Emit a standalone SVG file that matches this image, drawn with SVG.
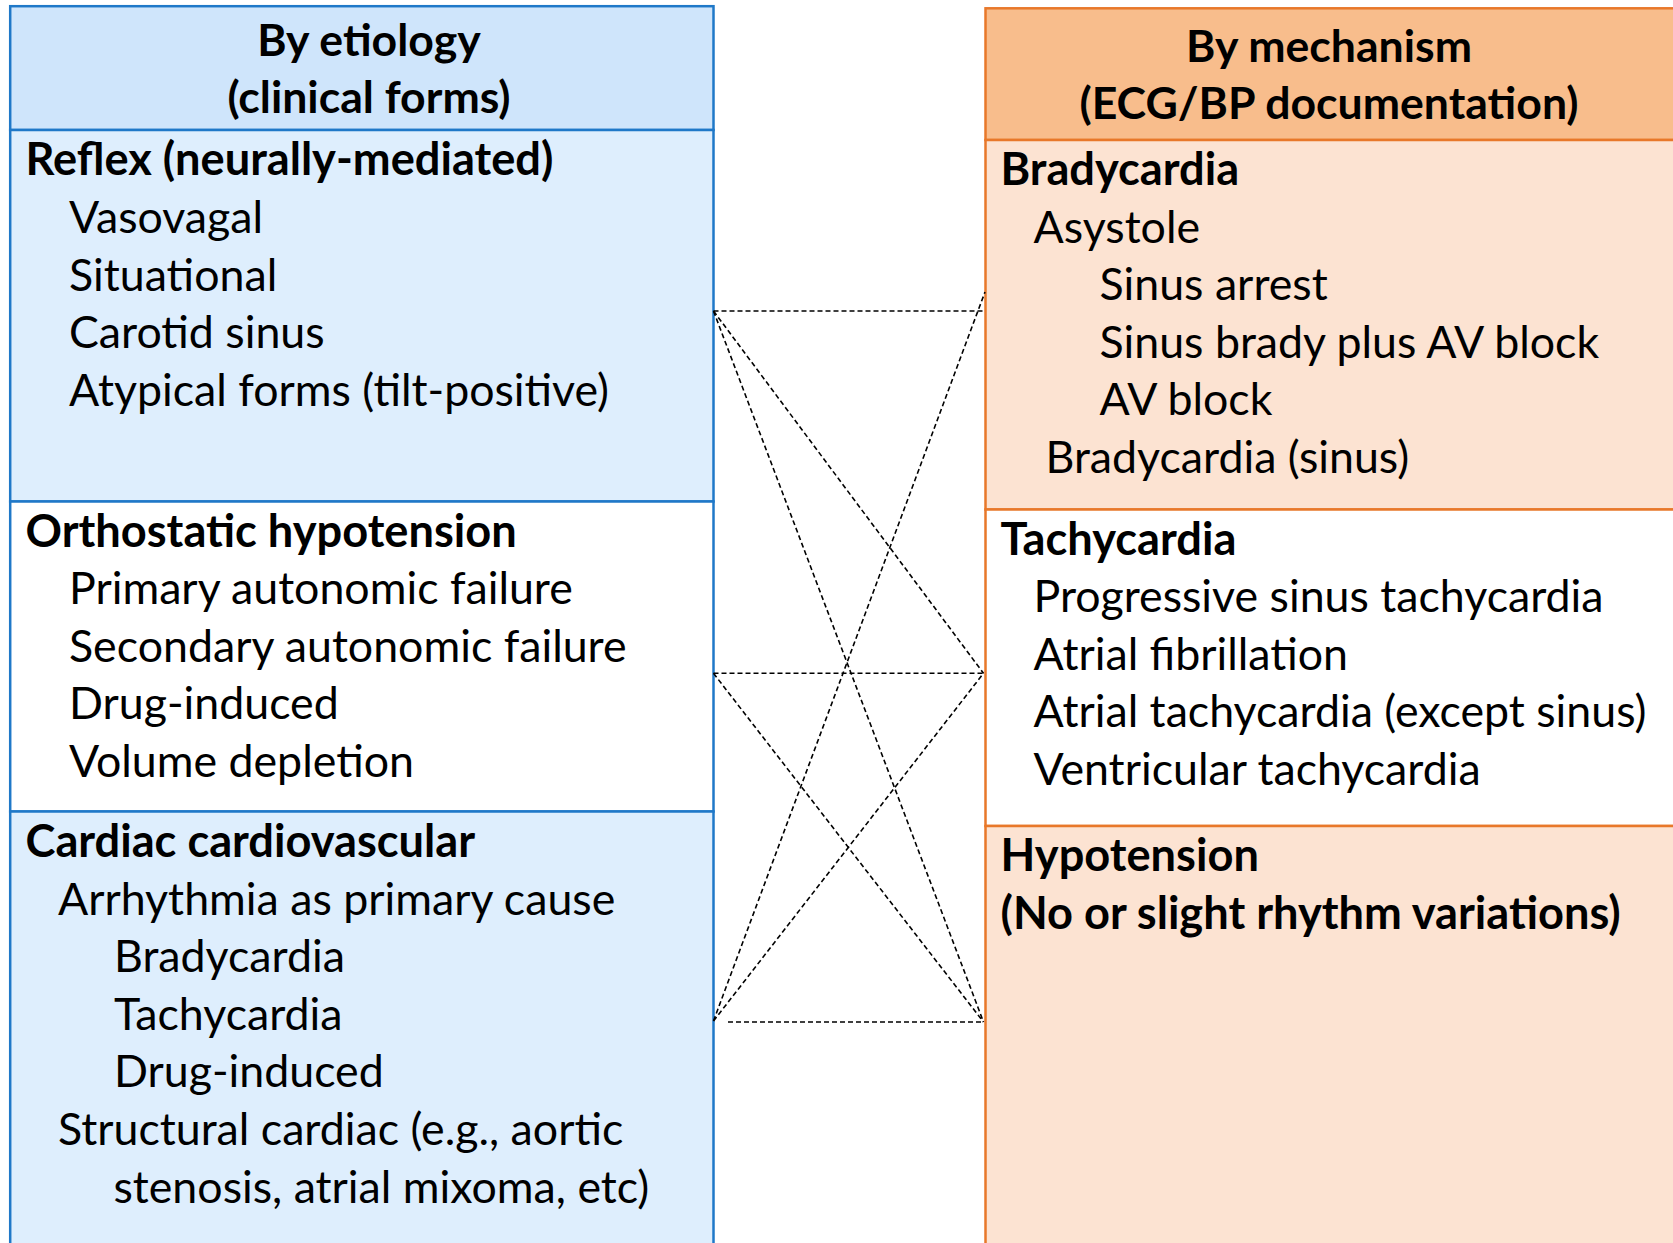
<svg xmlns="http://www.w3.org/2000/svg" width="1673" height="1243" viewBox="0 0 1673 1243">
<style>
text{font-family:Lato,"Open Sans","Liberation Sans",sans-serif;fill:#000}
.h{font-size:44.6px;font-weight:bold;text-anchor:middle}
.b{font-size:45.2px;font-weight:bold}
.r{font-size:44.7px}
.lb{stroke:#1F78C8;stroke-width:2.5}
.ro{stroke:#E8782A;stroke-width:2.5}
.conn line{stroke:#000;stroke-width:1.6;stroke-dasharray:5 3;fill:none}
</style>
<rect width="1673" height="1243" fill="#fff"/>
<g id="left-header">
<rect class="lb" x="10.2" y="6.2" width="703.3" height="123.8" fill="#CFE5FB"/>
<text class="h" x="369" y="55.5">By etiology</text>
<text class="h" x="369" y="113">(clinical forms)</text>
</g>
<g id="reflex">
<rect class="lb" x="10.2" y="130" width="703.3" height="371.5" fill="#DEEEFD"/>
<text class="b" x="25.5" y="175">Reflex (neurally-mediated)</text>
<text class="r" x="69" y="233">Vasovagal</text>
<text class="r" x="69" y="290.6">Situational</text>
<text class="r" x="69" y="348.2">Carotid sinus</text>
<text class="r" x="69" y="405.8">Atypical forms (tilt-positive)</text>
</g>
<g id="orthostatic">
<rect class="lb" x="10.2" y="501.5" width="703.3" height="310" fill="#FFFFFF"/>
<text class="b" x="25.5" y="546.5">Orthostatic hypotension</text>
<text class="r" x="69" y="604.1">Primary autonomic failure</text>
<text class="r" x="69" y="661.7">Secondary autonomic failure</text>
<text class="r" x="69" y="719.3">Drug-induced</text>
<text class="r" x="69" y="776.9">Volume depletion</text>
</g>
<g id="cardiac">
<rect class="lb" x="10.2" y="811.5" width="703.3" height="460" fill="#DEEEFD"/>
<text class="b" x="25.5" y="857">Cardiac cardiovascular</text>
<text class="r" x="58" y="914.6">Arrhythmia as primary cause</text>
<text class="r" x="114" y="972.2">Bradycardia</text>
<text class="r" x="114" y="1029.8">Tachycardia</text>
<text class="r" x="114" y="1087.4">Drug-induced</text>
<text class="r" x="58" y="1145">Structural cardiac (e.g., aortic</text>
<text class="r" x="113.5" y="1202.6">stenosis, atrial mixoma, etc)</text>
</g>
<g id="right-header">
<rect class="ro" x="985.5" y="8.3" width="720" height="131.7" fill="#F8BD8C"/>
<text class="h" x="1329" y="62">By mechanism</text>
<text class="h" x="1329" y="119">(ECG/BP documentation)</text>
</g>
<g id="bradycardia">
<rect class="ro" x="985.5" y="140" width="720" height="369.5" fill="#FCE3D2"/>
<text class="b" x="1000.5" y="185">Bradycardia</text>
<text class="r" x="1033.5" y="242.6">Asystole</text>
<text class="r" x="1099.5" y="300.2">Sinus arrest</text>
<text class="r" x="1099.5" y="357.8">Sinus brady plus AV block</text>
<text class="r" x="1099.5" y="415.4">AV block</text>
<text class="r" x="1045.5" y="473">Bradycardia (sinus)</text>
</g>
<g id="tachycardia">
<rect class="ro" x="985.5" y="509.5" width="720" height="316.5" fill="#FFFFFF"/>
<text class="b" x="1000.5" y="554.5">Tachycardia</text>
<text class="r" x="1033.5" y="612.1">Progressive sinus tachycardia</text>
<text class="r" x="1033.5" y="669.7">Atrial fibrillation</text>
<text class="r" x="1033.5" y="727.3">Atrial tachycardia (except sinus)</text>
<text class="r" x="1033.5" y="784.9">Ventricular tachycardia</text>
</g>
<g id="hypotension">
<rect class="ro" x="985.5" y="826" width="720" height="450" fill="#FCE3D2"/>
<text class="b" x="1000.5" y="871">Hypotension</text>
<text class="b" x="1000.5" y="928.6">(No or slight rhythm variations)</text>
</g>
<g id="connectors" class="conn">
<line x1="713.5" y1="311" x2="983.5" y2="311"/>
<line x1="713.5" y1="311" x2="983.5" y2="673.3"/>
<line x1="713.5" y1="311" x2="983.5" y2="1022"/>
<line x1="713.5" y1="673.3" x2="983.5" y2="673.3"/>
<line x1="713.5" y1="673.3" x2="983.5" y2="1022"/>
<line x1="713.5" y1="1021" x2="985" y2="292"/>
<line x1="713.5" y1="1021" x2="983.5" y2="673.3"/>
<line x1="728" y1="1022" x2="983.5" y2="1022"/>
</g>
</svg>
